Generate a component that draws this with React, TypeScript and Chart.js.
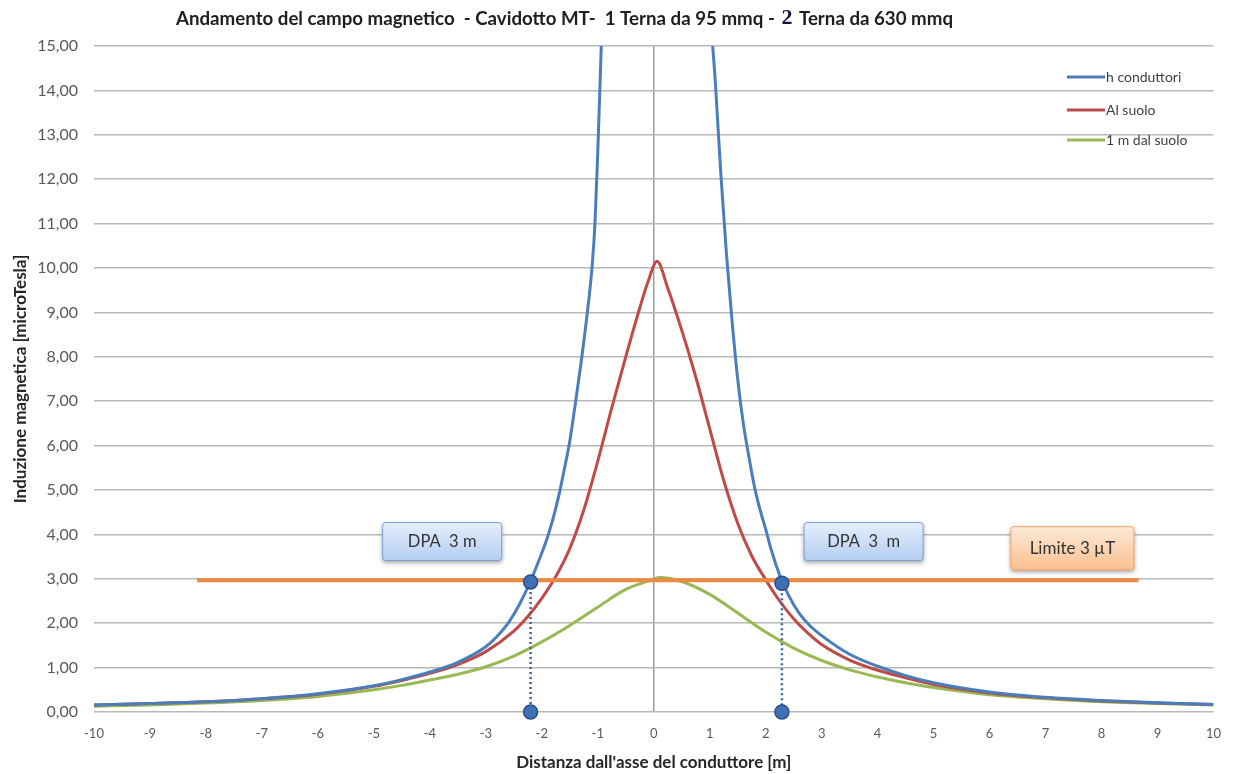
import React, { useEffect, useRef } from "react";
import { Chart, registerables } from "chart.js";

Chart.register(...registerables);

// ---------- data ----------
const titleLeft = "Andamento del campo magnetico  - Cavidotto MT-  1 Terna da 95 mmq - ";
const titleNum = "2";
const titleRight = " Terna da 630 mmq";
const xAxisTitle = "Distanza dall'asse del conduttore [m]";
const yAxisTitle = "Induzione magnetica [microTesla]";

const seriesNames = ["h conduttori", "Al suolo", "1 m dal suolo"];

const xBlue = [-10, -9, -8, -7, -6, -5, -4.5, -4, -3.5, -3, -2.8, -2.6, -2.4, -2.2, -2, -1.9, -1.8, -1.7, -1.6, -1.5, -1.4, -1.3, -1.2, -1.1, -1.05, -1, -0.95, -0.9, -0.6, 0.05, 0.7, 1, 1.1, 1.2, 1.3, 1.4, 1.5, 1.6, 1.7, 1.8, 1.9, 2, 2.1, 2.25, 2.4, 2.6, 2.8, 3, 3.5, 4, 4.5, 5, 6, 7, 8, 9, 10];
const yBlue = [0.16, 0.19, 0.23, 0.3, 0.41, 0.59, 0.73, 0.9, 1.12, 1.47, 1.7, 2.0, 2.42, 2.95, 3.58, 3.93, 4.35, 4.85, 5.45, 6.1, 6.95, 7.85, 8.85, 10.05, 11.0, 12.6, 14.5, 16.5, 30, 45, 30, 16.2, 14.2, 12.1, 10.3, 8.8, 7.5, 6.5, 5.75, 5.07, 4.55, 4.12, 3.65, 3.08, 2.65, 2.22, 1.93, 1.72, 1.3, 1.03, 0.82, 0.66, 0.45, 0.33, 0.26, 0.21, 0.17];

const xRed = [-10, -9, -8, -7, -6, -5, -4.5, -4, -3.5, -3, -2.5, -2.25, -2, -1.75, -1.5, -1.25, -1, -0.75, -0.5, -0.25, -0.1, 0.06, 0.25, 0.5, 0.75, 1, 1.25, 1.5, 1.75, 2, 2.25, 2.5, 2.75, 3, 3.5, 4, 4.5, 5, 6, 7, 8, 9, 10];
const yRed = [0.16, 0.19, 0.23, 0.3, 0.4, 0.58, 0.71, 0.87, 1.07, 1.36, 1.82, 2.15, 2.56, 3.05, 3.68, 4.55, 5.65, 6.85, 8.0, 9.1, 9.7, 10.15, 9.55, 8.6, 7.55, 6.38, 5.22, 4.25, 3.52, 2.98, 2.5, 2.1, 1.78, 1.52, 1.17, 0.94, 0.77, 0.62, 0.43, 0.32, 0.25, 0.2, 0.17];

const xGreen = [-10, -9, -8, -7, -6, -5, -4.5, -4, -3.5, -3, -2.5, -2, -1.5, -1, -0.5, 0, 0.1, 0.5, 1, 1.5, 2, 2.5, 3, 3.5, 4, 4.5, 5, 6, 7, 8, 9, 10];
const yGreen = [0.13, 0.16, 0.2, 0.26, 0.35, 0.5, 0.6, 0.72, 0.85, 1.02, 1.26, 1.58, 1.95, 2.36, 2.76, 2.99, 3.03, 2.94, 2.65, 2.23, 1.8, 1.44, 1.16, 0.95, 0.79, 0.66, 0.55, 0.39, 0.3, 0.23, 0.19, 0.16];

const limitX = [-8.16, 8.66];
const limitY = [2.97, 2.97];

const dpaLeftX = [-2.2, -2.2];
const dpaLeftY = [2.93, 0];
const dpaRightX = [2.29, 2.29];
const dpaRightY = [2.9, 0];

const boxTexts = ["DPA  3 m", "DPA  3  m", "Limite 3 \u00b5T"];
const boxX = [-3.78, 3.75, 7.48];
const boxY = [3.84, 3.84, 3.69];

// ---------- styles ----------
const BLUE = "#4A7EBB";
const RED = "#BE4B48";
const GREEN = "#98B954";
const ORANGE = "#ED8A3F";
const FONT = "Lato, 'Open Sans', sans-serif";

const pts = (xs: number[], ys: number[]) => xs.map((x, i) => ({ x, y: ys[i] }));

const boxStyles = [
  { w: 120, h: 39, top: "#e6effc", bottom: "#b3cdf1", border: "#7f9fd1", font: 16.5 },
  { w: 120, h: 39, top: "#e6effc", bottom: "#b3cdf1", border: "#7f9fd1", font: 16.5 },
  { w: 124, h: 44, top: "#fde9d9", bottom: "#fbc08f", border: "#f2a56a", font: 17 },
];

const titlePlugin = {
  id: "customTitle",
  afterDraw(chart: any) {
    const ctx = chart.ctx;
    ctx.save();
    ctx.textBaseline = "middle";
    ctx.fillStyle = "#1e1e1e";
    let size = 16;
    ctx.font = `bold ${size}px ${FONT}`;
    const w = ctx.measureText(titleLeft).width;
    size = (size * 604) / w;
    ctx.font = `bold ${size}px ${FONT}`;
    let x = 176;
    const y = 19;
    ctx.fillText(titleLeft, x, y);
    x += ctx.measureText(titleLeft).width;
    ctx.font = `bold 22px 'Liberation Serif', serif`;
    ctx.fillStyle = "#14143c";
    ctx.fillText(titleNum, x + 2, y - 1);
    x += ctx.measureText(titleNum).width + 4;
    ctx.font = `bold ${size}px ${FONT}`;
    ctx.fillStyle = "#1e1e1e";
    ctx.fillText(titleRight, x, y);
    ctx.restore();
  },
};

const legendPlugin = {
  id: "customLegend",
  afterDraw(chart: any) {
    const ctx = chart.ctx;
    const colors = [BLUE, RED, GREEN];
    const ys = [77, 110, 140];
    ctx.save();
    ctx.font = `14px ${FONT}`;
    ctx.textBaseline = "middle";
    seriesNames.forEach((name, i) => {
      ctx.strokeStyle = colors[i];
      ctx.lineWidth = 3;
      ctx.beginPath();
      ctx.moveTo(1067, ys[i]);
      ctx.lineTo(1105, ys[i]);
      ctx.stroke();
      ctx.fillStyle = "#404040";
      ctx.fillText(name, 1106, ys[i]);
    });
    ctx.restore();
  },
};

const boxPlugin = {
  id: "boxes",
  afterDatasetsDraw(chart: any) {
    const ctx = chart.ctx;
    const xs = chart.scales.x;
    const ys = chart.scales.y;
    ctx.save();
    boxTexts.forEach((t, i) => {
      const st = boxStyles[i];
      const cx = xs.getPixelForValue(boxX[i]);
      const cy = ys.getPixelForValue(boxY[i]);
      const l = cx - st.w / 2;
      const tp = cy - st.h / 2;
      const g = ctx.createLinearGradient(0, tp, 0, tp + st.h);
      g.addColorStop(0, st.top);
      g.addColorStop(1, st.bottom);
      ctx.save();
      ctx.shadowColor = "rgba(0,0,0,0.35)";
      ctx.shadowBlur = 4;
      ctx.shadowOffsetY = 2;
      ctx.beginPath();
      ctx.roundRect(l, tp, st.w, st.h, 3);
      ctx.fillStyle = g;
      ctx.fill();
      ctx.restore();
      ctx.strokeStyle = st.border;
      ctx.lineWidth = 1;
      ctx.beginPath();
      ctx.roundRect(l + 0.5, tp + 0.5, st.w - 1, st.h - 1, 3);
      ctx.stroke();
      ctx.fillStyle = "#333333";
      ctx.font = `${st.font}px ${FONT}`;
      ctx.textAlign = "center";
      ctx.textBaseline = "middle";
      ctx.fillText(t, cx, cy);
    });
    ctx.restore();
  },
};

export default function App() {
  const ref = useRef<HTMLCanvasElement | null>(null);

  useEffect(() => {
    if (!ref.current) return;
    const curve = (label: string, color: string, xs: number[], ys: number[], order: number) => ({
      label,
      data: pts(xs, ys),
      borderColor: color,
      backgroundColor: color,
      borderWidth: 3,
      pointRadius: 0,
      cubicInterpolationMode: "monotone" as const,
      clip: 0,
      order,
    });
    const marker = (xs: number[], ys: number[]) => ({
      label: "DPA",
      data: pts(xs, ys),
      borderColor: "#3C64A0",
      borderWidth: 2.5,
      borderDash: [2, 3],
      pointRadius: 7,
      pointBackgroundColor: "#3F6FB6",
      pointBorderColor: "#2A4E86",
      pointBorderWidth: 1.5,
      clip: false as const,
      order: 0,
    });
    const chart = new Chart(ref.current, {
      type: "line",
      data: {
        datasets: [
          marker(dpaLeftX, dpaLeftY),
          marker(dpaRightX, dpaRightY),
          {
            label: "Limite",
            data: pts(limitX, limitY),
            borderColor: ORANGE,
            borderWidth: 4,
            pointRadius: 0,
            order: 1,
          },
          curve(seriesNames[0], BLUE, xBlue, yBlue, 2),
          curve(seriesNames[1], RED, xRed, yRed, 3),
          curve(seriesNames[2], GREEN, xGreen, yGreen, 4),
        ] as any,
      },
      options: {
        animation: false,
        responsive: false,
        events: [],
        layout: { padding: { left: 0, top: 46, right: 18, bottom: 0 } },
        plugins: {
          legend: { display: false },
          tooltip: { enabled: false },
          title: { display: false },
        },
        scales: {
          x: {
            type: "linear",
            min: -10,
            max: 10,
            afterFit: (s: any) => {
              s.height = 62;
            },
            ticks: {
              stepSize: 1,
              autoSkip: false,
              maxRotation: 0,
              padding: 14,
              color: "#595959",
              font: { family: FONT, size: 13 },
              callback: (v: any) => String(v),
            },
            grid: {
              drawTicks: false,
              color: (c: any) => (c.tick && c.tick.value === 0 ? "#9c9c9c" : "rgba(0,0,0,0)"),
              lineWidth: 1.5,
            },
            border: { display: false },
            title: {
              display: true,
              text: xAxisTitle,
              color: "#262626",
              font: { family: FONT, size: 17, weight: "bold" },
              padding: { top: 0, bottom: 1 },
            },
          },
          y: {
            type: "linear",
            min: 0,
            max: 15,
            afterFit: (s: any) => {
              s.width = 94;
            },
            ticks: {
              stepSize: 1,
              padding: 16,
              color: "#595959",
              font: { family: FONT, size: 16 },
              callback: (v: any) => Number(v).toFixed(2).replace(".", ","),
            },
            grid: { drawTicks: false, color: "#b8b8b8", lineWidth: 1.5 },
            border: { display: false },
            title: {
              display: true,
              text: yAxisTitle,
              color: "#262626",
              font: { family: FONT, size: 17, weight: "bold" },
              padding: { top: 10, bottom: 0 },
            },
          },
        },
      } as any,
      plugins: [boxPlugin, legendPlugin, titlePlugin],
    });
    return () => chart.destroy();
  }, []);

  return (
    <div style={{ position: "fixed", left: 0, top: 0, width: 1235, height: 774, background: "#ffffff" }}>
      <canvas ref={ref} width={1235} height={774} />
    </div>
  );
}
